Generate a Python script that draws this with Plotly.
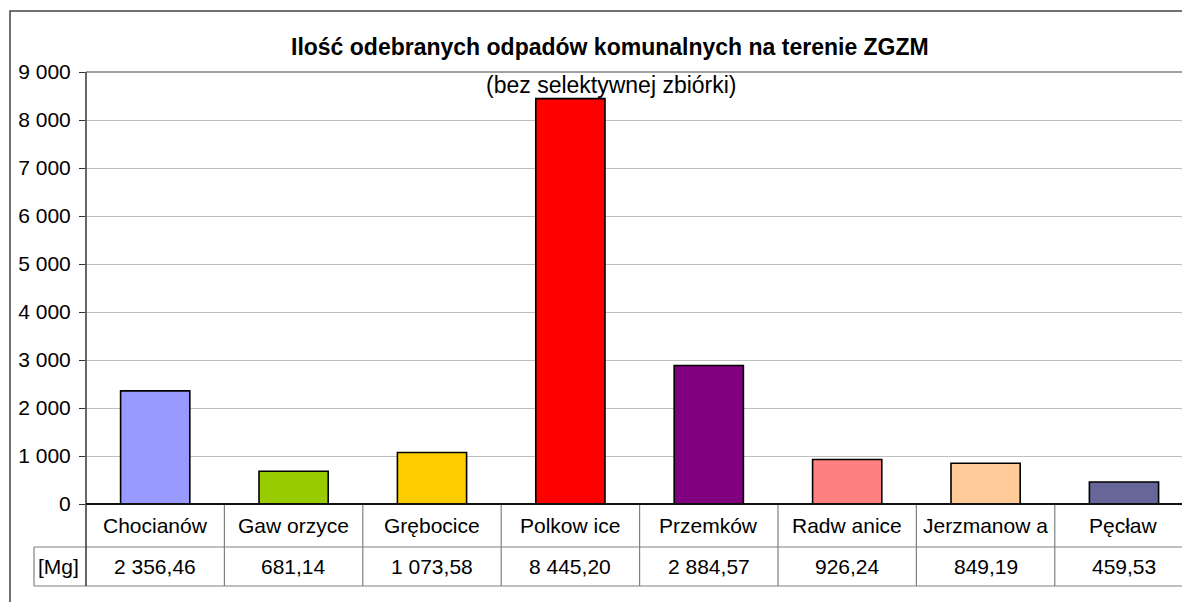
import plotly.graph_objects as go

categories = ["Chocianów", "Gaw orzyce", "Grębocice", "Polkow ice", "Przemków",
              "Radw anice", "Jerzmanow a", "Pęcław"]
values = [2356.46, 681.14, 1073.58, 8445.20, 2884.57, 926.24, 849.19, 459.53]
colors = ["#9999FF", "#99CC00", "#FFCC00", "#FF0000", "#800080",
          "#FF8080", "#FFCC99", "#666699"]
unit_label = "[Mg]"
title = "Ilość odebranych odpadów komunalnych na terenie ZGZM"
subtitle = "(bez selektywnej zbiórki)"

# page has an 8px body margin: work in page pixels, convert to figure pixels
OFF = 8
W, H = 1190 - OFF, 602 - OFF
PLOT_L, PLOT_T, PLOT_B = 86, 72, 504          # page pixels
L, T = PLOT_L - OFF, PLOT_T - OFF
B = H - (PLOT_B - OFF)
R = 0
PW, PH = W - L - R, H - T - B
XR = [-0.5, 7.477]


def fmt(v):
    s = f"{v:,.2f}"
    return s.replace(",", " ").replace(".", ",")


def px_x(px):
    return (px - PLOT_L) / PW


def px_y(py):
    return (PLOT_B - py) / PH


def cat_paper(c):
    return (c - XR[0]) / (XR[1] - XR[0])


FONT = "Liberation Sans, Arial, sans-serif"

fig = go.Figure()
fig.add_trace(go.Bar(
    x=list(range(len(categories))), y=values,
    marker=dict(color=colors, line=dict(color="#000000", width=1.6)),
    width=0.5, hoverinfo="skip",
))

shapes = []
# outer chart border
shapes.append(dict(type="rect", xref="paper", yref="paper",
                   x0=px_x(10), x1=px_x(1250), y0=px_y(700), y1=px_y(11),
                   line=dict(color="#404040", width=1.5), fillcolor="rgba(0,0,0,0)",
                   layer="below"))
# top line of plot area (9000)
shapes.append(dict(type="line", xref="paper", yref="paper",
                   x0=0, x1=1.05, y0=1, y1=1, line=dict(color="#808080", width=1.5)))
# table horizontal lines
for py in (547, 586):
    shapes.append(dict(type="line", xref="paper", yref="paper",
                       x0=px_x(34), x1=1.05, y0=px_y(py), y1=px_y(py),
                       line=dict(color="#808080", width=1.2)))
# [Mg] left border
shapes.append(dict(type="line", xref="paper", yref="paper",
                   x0=px_x(34), x1=px_x(34), y0=px_y(547), y1=px_y(586),
                   line=dict(color="#808080", width=1.2)))
# column separators
for i in range(len(categories)):
    xp = cat_paper(i + 0.5)
    if xp <= 1:
        shapes.append(dict(type="line", xref="paper", yref="paper",
                           x0=xp, x1=xp, y0=0, y1=px_y(586),
                           line=dict(color="#808080", width=1.2)))
# y axis line extended through table
shapes.append(dict(type="line", xref="paper", yref="paper",
                   x0=0, x1=0, y0=px_y(586), y1=1,
                   line=dict(color="#333333", width=1.5)))
# x axis line
shapes.append(dict(type="line", xref="paper", yref="paper",
                   x0=0, x1=1.05, y0=0, y1=0,
                   line=dict(color="#111111", width=1.8)))

annotations = []
for i, (c, v) in enumerate(zip(categories, values)):
    annotations.append(dict(x=i, y=px_y(525), xref="x", yref="paper", text=c,
                            showarrow=False, xanchor="center", yanchor="middle",
                            font=dict(family=FONT, size=21, color="#000000")))
    annotations.append(dict(x=i, y=px_y(566), xref="x", yref="paper", text=fmt(v),
                            showarrow=False, xanchor="center", yanchor="middle",
                            font=dict(family=FONT, size=21, color="#000000")))
annotations.append(dict(x=px_x(58), y=px_y(566), xref="paper", yref="paper",
                        text=unit_label, showarrow=False, xanchor="center",
                        yanchor="middle", font=dict(family=FONT, size=21, color="#000000")))
annotations.append(dict(x=px_x(610), y=px_y(47), xref="paper", yref="paper",
                        text="<b>" + title + "</b>", showarrow=False, xanchor="center",
                        yanchor="middle", font=dict(family=FONT, size=23, color="#000000")))
annotations.append(dict(x=px_x(611), y=px_y(85), xref="paper", yref="paper",
                        text=subtitle, showarrow=False, xanchor="center",
                        yanchor="middle", font=dict(family=FONT, size=23, color="#000000")))

fig.update_layout(
    width=W, height=H,
    margin=dict(l=L, r=R, t=T, b=B, pad=0),
    paper_bgcolor="#FFFFFF", plot_bgcolor="#FFFFFF",
    separators=", ",
    showlegend=False,
    shapes=shapes, annotations=annotations,
    xaxis=dict(range=XR, showticklabels=False, showgrid=False, zeroline=False,
               showline=False, ticks="", fixedrange=True),
    yaxis=dict(range=[0, 9000], dtick=1000, tick0=0, showgrid=True,
               gridcolor="#BFBFBF", gridwidth=1, zeroline=False, showline=False,
               ticks="outside", ticklen=6, tickcolor="#333333", tickwidth=1.2,
               tickformat=",d", ticklabelstandoff=4,
               tickfont=dict(family=FONT, size=21, color="#000000"), fixedrange=True),
)

fig.write_html("out.html")
